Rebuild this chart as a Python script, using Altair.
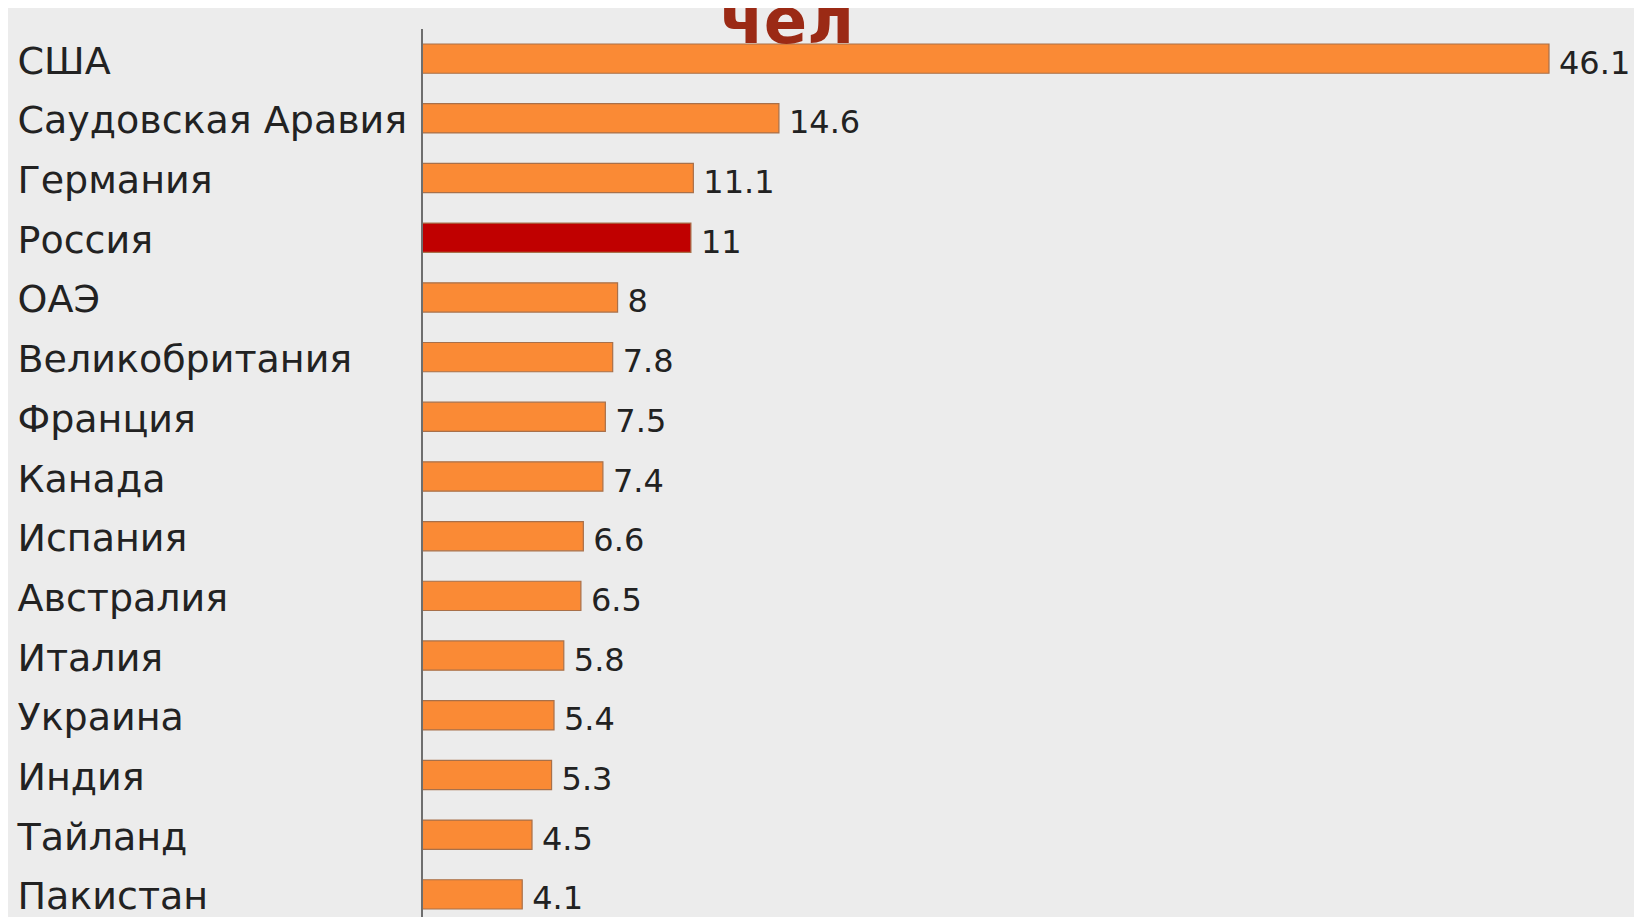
import altair as alt
import pandas as pd

countries = ["США", "Саудовская Аравия", "Германия", "Россия", "ОАЭ",
             "Великобритания", "Франция", "Канада", "Испания", "Австралия",
             "Италия", "Украина", "Индия", "Тайланд", "Пакистан"]
values = [46.1, 14.6, 11.1, 11, 8, 7.8, 7.5, 7.4, 6.6, 6.5, 5.8, 5.4, 5.3, 4.5, 4.1]
highlight = ["Россия"]
title_text = "чел"

df = pd.DataFrame({
    "country": countries,
    "value": values,
    "label": [f"{v:g}" for v in values],
    "hl": ["yes" if c in highlight else "no" for c in countries],
})

W = 1127
H = 865
FONT = "DejaVu Sans"

y_enc = alt.Y("country:N", sort=countries,
              scale=alt.Scale(paddingInner=0.51, paddingOuter=0),
              axis=alt.Axis(title=None, domain=False, ticks=False, tickSize=0,
                            labelAlign="left", labelPadding=405, labelLimit=600,
                            labelFont=FONT, labelFontSize=38, labelColor="#222222",
                            labelBaseline="middle", labelOffset=4))
x_enc = alt.X("value:Q", scale=alt.Scale(domain=[0, 46.1], nice=False, zero=True),
              axis=None)

bars = alt.Chart(df).mark_bar(stroke="#a8704a", strokeWidth=1.2).encode(
    x=x_enc, y=y_enc,
    color=alt.Color("hl:N", scale=alt.Scale(domain=["no", "yes"],
                                            range=["#fa8a35", "#c00000"]),
                    legend=None),
)

labels = alt.Chart(df).mark_text(align="left", baseline="middle", dx=10, dy=5,
                                 font=FONT, fontSize=32, color="#222222").encode(
    x=x_enc, y=y_enc, text="label:N")

axis_line = alt.Chart(pd.DataFrame({"v": [0]})).mark_rule(
    color="#6e6e6e", strokeWidth=2).encode(
    x=alt.value(0), y=alt.value(-15), y2=alt.value(H + 20))

title = alt.Chart(pd.DataFrame({"t": [title_text]})).mark_text(
    align="center", baseline="alphabetic", font=FONT, fontSize=64,
    fontWeight="bold", color="#9b2a15").encode(
    x=alt.value(365), y=alt.value(-1), text="t:N")

chart = alt.layer(bars, labels, axis_line, title).properties(
    width=W, height=H,
    background="#ececec",
    padding={"left": 414, "top": 36, "right": 85, "bottom": 8},
    autosize=alt.AutoSizeParams(type="none"),
).configure_view(stroke=None)

chart.save("out.html", embed_options={"renderer": "svg", "actions": False})
